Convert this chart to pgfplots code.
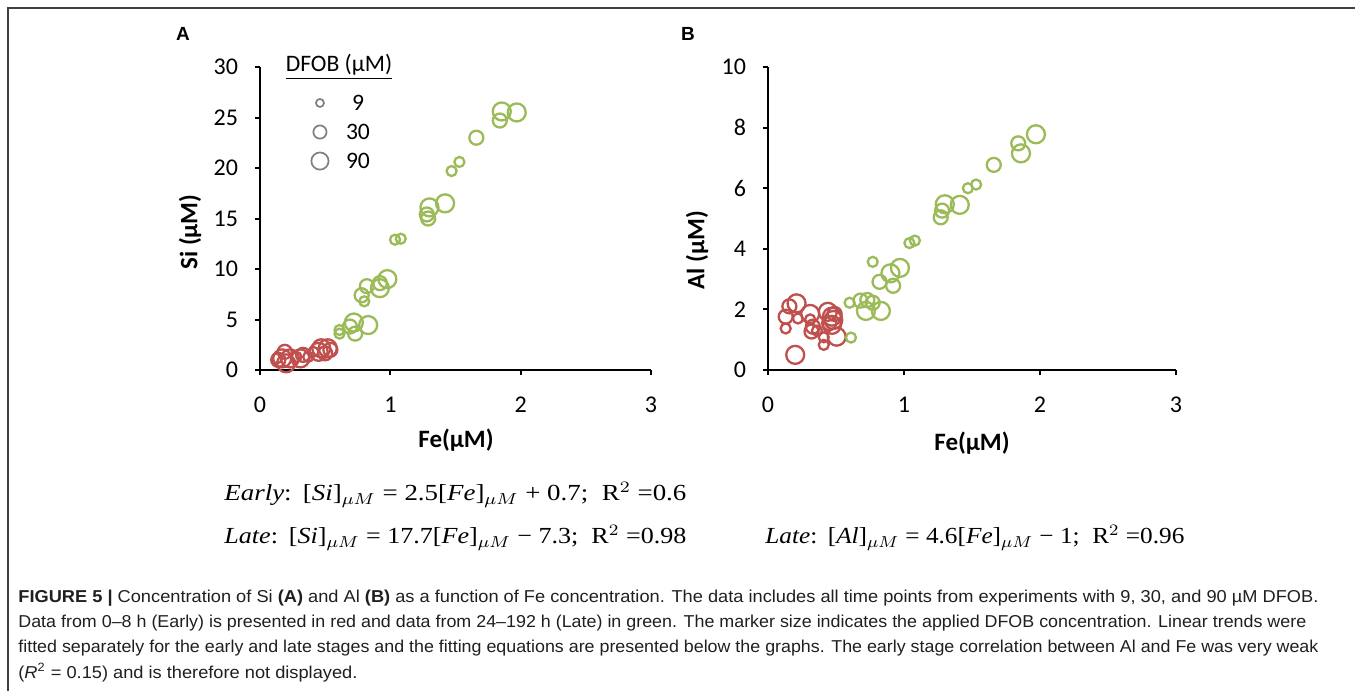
\documentclass[border=0pt]{standalone}
\usepackage{fontspec}
\setmainfont{Carlito}
\newfontfamily\capfont{Liberation Sans}
\newfontfamily\eqfont{Liberation Serif}
\usepackage{graphicx}
\usepackage{pgfplots}
\pgfplotsset{compat=1.18}

\definecolor{earlyred}{HTML}{C0504D}
\definecolor{lategreen}{HTML}{9BBB59}
\definecolor{leggray}{HTML}{7F7F7F}
\definecolor{framegray}{HTML}{404040}

\pgfplotsset{
  panel/.style={
    scale only axis,
    anchor=south west,
    axis lines=left,
    axis line style={black, line width=1bp, -},
    tick style={black, line width=1bp},
    tick align=outside,
    major tick length=2.5bp,
    xmin=0, xmax=3, xtick={0,1,2,3}, ymin=0,
    tick label style={font=\fontsize{12bp}{14bp}\selectfont},
    xticklabel style={anchor=north, yshift=-7.5bp},
    yticklabel style={anchor=east, xshift=-5bp},
    /pgf/number format/assume math mode=true,
    clip=false,
  },
  s9/.style={only marks, mark=o, mark size=2.5bp, mark options={line width=1.15bp}},
  s30/.style={only marks, mark=o, mark size=3.5bp, mark options={line width=1.15bp}},
  s90/.style={only marks, mark=o, mark size=4.5bp, mark options={line width=1.15bp}},
}

\begin{document}
\begin{tikzpicture}
  \useasboundingbox (0,0) rectangle (677.5bp,-345.5bp);

  % ===== Panel A: Si vs Fe =====
  \begin{axis}[panel, at={(130bp,-185bp)}, width=195.5bp, height=151.5bp,
    ymax=30, ytick={0,5,10,15,20,25,30}]
    % early (red)
    \addplot[s9, earlyred] coordinates {(0.13,1.15) (0.28,1.3) (0.37,1.3) (0.41,1.8)};
    \addplot[s30, earlyred] coordinates {(0.14,1.0) (0.19,1.8) (0.33,1.5) (0.50,1.65) (0.54,2.0)};
    \addplot[s90, earlyred] coordinates {(0.17,1.15) (0.20,0.66) (0.23,1.15) (0.31,1.15)
      (0.45,1.8) (0.47,2.15) (0.52,2.15)};
    % late (green)
    \addplot[s9, lategreen] coordinates {(1.47,19.7) (1.53,20.6) (1.036,12.9) (1.08,13.0)
      (0.80,6.8) (0.61,3.6) (0.61,3.96)};
    \addplot[s30, lategreen] coordinates {(1.84,24.7) (1.66,23.0) (1.28,15.4) (1.29,15.0)
      (0.92,8.6) (0.78,7.4) (0.82,8.3) (0.69,4.3) (0.73,3.6)};
    \addplot[s90, lategreen] coordinates {(1.97,25.5) (1.855,25.6) (1.42,16.5) (1.30,16.1)
      (0.977,9.0) (0.92,8.1) (0.83,4.45) (0.72,4.7)};
    % marker size legend
    \addplot[only marks, mark=o, mark size=2bp, leggray, mark options={line width=0.85bp}]
      coordinates {(0.46,26.44)};
    \addplot[only marks, mark=o, mark size=3.3bp, leggray, mark options={line width=0.85bp}]
      coordinates {(0.46,23.56)};
    \addplot[only marks, mark=o, mark size=4.3bp, leggray, mark options={line width=0.85bp}]
      coordinates {(0.46,20.69)};
  \end{axis}

  % ===== Panel B: Al vs Fe =====
  \begin{axis}[panel, at={(384bp,-185bp)}, width=204bp, height=151.5bp,
    ymax=10, ytick={0,2,4,6,8,10}]
    \addplot[s9, earlyred] coordinates {(0.13,1.37) (0.22,1.7) (0.31,1.67) (0.36,1.3)
      (0.41,1.08) (0.41,0.83)};
    \addplot[s30, earlyred] coordinates {(0.157,2.1) (0.13,1.76) (0.33,1.43) (0.32,1.27)
      (0.45,1.55) (0.49,1.85)};
    \addplot[s90, earlyred] coordinates {(0.20,0.5) (0.21,2.2) (0.31,1.85) (0.44,1.92)
      (0.47,1.76) (0.48,1.65) (0.47,1.49) (0.505,1.10)};
    \addplot[s9, lategreen] coordinates {(1.53,6.12) (1.47,6.0) (1.08,4.27) (1.04,4.19)
      (0.77,3.57) (0.60,2.22) (0.61,1.07)};
    \addplot[s30, lategreen] coordinates {(1.84,7.48) (1.66,6.77) (1.28,5.26) (1.27,5.04)
      (0.82,2.91) (0.92,2.78) (0.68,2.29) (0.73,2.31) (0.77,2.22)};
    \addplot[s90, lategreen] coordinates {(1.97,7.78) (1.86,7.15) (1.41,5.45) (1.30,5.47)
      (0.97,3.37) (0.90,3.19) (0.83,1.95) (0.72,1.95)};
  \end{axis}

  % ===== texts, positioned in reference pixels =====
  \begin{scope}[x=0.5bp, y=-0.5bp]
    \draw[framegray, line width=1bp] (8,691) -- (8,8) -- (1355,8);
    \node[font=\capfont\bfseries\fontsize{9.5bp}{10bp}\selectfont] at (183,34) {A};
    \node[font=\capfont\bfseries\fontsize{9.5bp}{10bp}\selectfont] at (688,34) {B};

    \node[rotate=90, font=\bfseries\fontsize{12.5bp}{14bp}\selectfont] at (190,232) {Si (µM)};
    \node[rotate=90, font=\bfseries\fontsize{12.5bp}{14bp}\selectfont] at (697,250) {Al (µM)};
    \node[font=\bfseries\fontsize{12.5bp}{14bp}\selectfont] at (456,440) {Fe(µM)};
    \node[font=\bfseries\fontsize{12.5bp}{14bp}\selectfont] at (972,443) {Fe(µM)};

    \node[font=\fontsize{11.8bp}{13bp}\selectfont] at (339,67) {\underline{DFOB (µM)}};
    \node[font=\fontsize{11.8bp}{13bp}\selectfont] at (358,103) {9};
    \node[font=\fontsize{11.8bp}{13bp}\selectfont] at (358,132) {30};
    \node[font=\fontsize{11.8bp}{13bp}\selectfont] at (358,161) {90};

    \begin{scope}[every node/.style={anchor=base west, inner sep=0pt,
        font=\eqfont\fontsize{11.5bp}{13bp}\selectfont}]
      \node at (224,501) {\resizebox{231bp}{\height}{\textit{Early}:\ \,[\textit{Si}]$_{\mu M}$ = 2.5[\textit{Fe}]$_{\mu M}$ + 0.7;\ \ R$^{2}$ =0.6}};
      \node at (224,544) {\resizebox{231bp}{\height}{\textit{Late}:\ \,[\textit{Si}]$_{\mu M}$ = 17.7[\textit{Fe}]$_{\mu M}$ − 7.3;\ \ R$^{2}$ =0.98}};
      \node at (765,544) {\resizebox{209.5bp}{\height}{\textit{Late}:\ \,[\textit{Al}]$_{\mu M}$ = 4.6[\textit{Fe}]$_{\mu M}$ − 1;\ \ R$^{2}$ =0.96}};
    \end{scope}

    \begin{scope}[every node/.style={anchor=base west, inner sep=0pt, text=black!88,
        font=\capfont\fontsize{8.6bp}{10bp}\selectfont}]
      \node at (18,603) {\resizebox{650bp}{\height}{\textbf{FIGURE 5 |} Concentration of Si \textbf{(A)} and Al \textbf{(B)} as a function of Fe concentration. The data includes all time points from experiments with 9, 30, and 90 µM DFOB.}};
      \node at (18,628) {\resizebox{644bp}{\height}{Data from 0–8 h (Early) is presented in red and data from 24–192 h (Late) in green. The marker size indicates the applied DFOB concentration. Linear trends were}};
      \node at (18,653) {\resizebox{650bp}{\height}{fitted separately for the early and late stages and the fitting equations are presented below the graphs. The early stage correlation between Al and Fe was very weak}};
      \node at (18,679) {\resizebox{169.5bp}{\height}{(\textit{R}\textsuperscript{2} = 0.15) and is therefore not displayed.}};
    \end{scope}
  \end{scope}
\end{tikzpicture}
\end{document}
